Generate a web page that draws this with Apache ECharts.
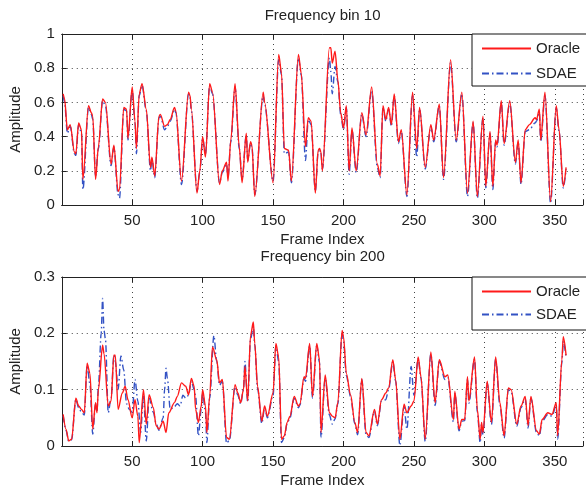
<!DOCTYPE html>
<html><head><meta charset="utf-8">
<script src="https://cdn.jsdelivr.net/npm/echarts@6/dist/echarts.min.js"></script>
<style>html,body{margin:0;padding:0;background:#fff;overflow:hidden}#c{width:586px;height:489px}</style>
</head><body><div id="c"></div>
<script>
// ---------- data ----------
const titles = ['Frequency bin 10', 'Frequency bin 200'];
const xName = 'Frame Index';
const yName = 'Amplitude';
const seriesNames = ['Oracle', 'SDAE'];
const xTickValues = [50, 100, 150, 200, 250, 300, 350];
const topYTicks = [0, 0.2, 0.4, 0.6, 0.8, 1];
const botYTicks = [0, 0.1, 0.2, 0.3];

// [frame, amplitude] — Frequency bin 10
const topOracle = [[1,0.65],[2,0.62],[4,0.44],[6,0.47],[9,0.31],[10,0.30],[12,0.48],[14,0.44],[15,0.15],[19,0.58],[21,0.54],[22,0.52],[24,0.15],[26,0.34],[29,0.62],[31,0.60],[35,0.24],[37,0.35],[40,0.08],[41,0.09],[44,0.57],[46,0.56],[47,0.39],[50,0.69],[52,0.49],[53,0.33],[55,0.65],[57,0.71],[60,0.56],[63,0.22],[64,0.28],[66,0.17],[69,0.52],[70,0.53],[73,0.46],[75,0.47],[77,0.50],[80,0.57],[81,0.55],[85,0.14],[90,0.66],[91,0.64],[92,0.56],[96,0.07],[98,0.20],[100,0.40],[102,0.28],[105,0.71],[107,0.66],[112,0.12],[114,0.20],[117,0.25],[118,0.14],[120,0.38],[123,0.71],[126,0.34],[128,0.13],[131,0.42],[132,0.25],[134,0.37],[135,0.35],[137,0.05],[143,0.66],[144,0.60],[150,0.13],[154,0.88],[156,0.77],[158,0.33],[161,0.32],[163,0.14],[168,0.88],[170,0.77],[173,0.34],[175,0.51],[177,0.49],[180,0.07],[182,0.32],[183,0.33],[184,0.31],[185,0.20],[190,0.92],[191,0.92],[192,0.83],[194,0.90],[196,0.73],[198,0.54],[200,0.45],[202,0.58],[204,0.20],[206,0.45],[209,0.20],[213,0.54],[216,0.41],[220,0.69],[224,0.24],[226,0.17],[228,0.58],[230,0.50],[232,0.57],[234,0.47],[236,0.65],[239,0.37],[241,0.44],[245,0.06],[249,0.66],[252,0.33],[254,0.57],[258,0.22],[262,0.47],[264,0.38],[268,0.59],[271,0.16],[276,0.85],[280,0.38],[284,0.66],[288,0.07],[292,0.49],[295,0.05],[299,0.52],[301,0.11],[304,0.43],[306,0.11],[308,0.38],[309,0.35],[312,0.61],[314,0.36],[318,0.61],[322,0.25],[324,0.38],[326,0.13],[329,0.44],[332,0.47],[336,0.51],[337,0.50],[339,0.56],[340,0.38],[343,0.66],[347,0.02],[351,0.58],[353,0.44],[356,0.11],[358,0.22]];
const topSDAE = [[1,0.64],[2,0.60],[4,0.42],[6,0.46],[9,0.30],[10,0.29],[12,0.47],[14,0.42],[15,0.09],[19,0.57],[21,0.53],[22,0.50],[24,0.17],[26,0.33],[29,0.61],[31,0.58],[35,0.23],[37,0.34],[40,0.06],[41,0.04],[44,0.56],[46,0.55],[47,0.38],[50,0.67],[52,0.48],[53,0.30],[55,0.64],[57,0.70],[60,0.55],[63,0.20],[64,0.27],[66,0.16],[69,0.51],[70,0.52],[73,0.44],[75,0.46],[77,0.49],[80,0.56],[81,0.54],[85,0.12],[90,0.65],[91,0.63],[92,0.55],[96,0.08],[98,0.19],[100,0.39],[102,0.30],[105,0.70],[107,0.65],[112,0.13],[114,0.19],[117,0.24],[118,0.16],[120,0.37],[123,0.69],[126,0.33],[128,0.15],[131,0.41],[132,0.26],[134,0.36],[135,0.34],[137,0.06],[143,0.64],[144,0.59],[150,0.14],[154,0.85],[156,0.76],[158,0.30],[161,0.31],[163,0.13],[168,0.86],[170,0.76],[173,0.26],[175,0.50],[177,0.47],[180,0.08],[182,0.31],[183,0.32],[184,0.30],[185,0.21],[190,0.86],[191,0.78],[192,0.65],[194,0.81],[196,0.72],[198,0.53],[200,0.44],[202,0.57],[204,0.18],[206,0.44],[209,0.19],[213,0.53],[216,0.40],[220,0.67],[224,0.22],[226,0.16],[228,0.57],[230,0.49],[232,0.56],[234,0.46],[236,0.64],[239,0.36],[241,0.43],[245,0.05],[249,0.64],[252,0.28],[254,0.56],[258,0.21],[262,0.46],[264,0.37],[268,0.58],[271,0.15],[276,0.83],[280,0.37],[284,0.65],[288,0.05],[292,0.48],[295,0.04],[299,0.51],[301,0.10],[304,0.42],[306,0.09],[308,0.37],[309,0.34],[312,0.60],[314,0.35],[318,0.60],[322,0.24],[324,0.37],[326,0.12],[329,0.43],[332,0.44],[336,0.48],[337,0.49],[339,0.54],[340,0.37],[343,0.64],[347,0.01],[351,0.57],[353,0.43],[356,0.10],[358,0.21]];

// [frame, amplitude] — Frequency bin 200
const botOracle = [[1,0.056],[3,0.030],[5,0.009],[7,0.012],[10,0.085],[12,0.071],[14,0.065],[16,0.059],[18,0.147],[20,0.129],[22,0.030],[24,0.077],[25,0.059],[26,0.100],[29,0.179],[30,0.164],[33,0.071],[35,0.080],[37,0.161],[38,0.161],[40,0.065],[43,0.094],[45,0.106],[47,0.082],[50,0.050],[52,0.082],[54,0.053],[55,0.006],[58,0.100],[60,0.039],[62,0.091],[65,0.068],[67,0.036],[69,0.030],[72,0.044],[74,0.024],[76,0.059],[80,0.077],[82,0.088],[85,0.112],[88,0.106],[90,0.091],[92,0.120],[94,0.106],[95,0.065],[97,0.042],[99,0.071],[100,0.100],[102,0.071],[103,0.024],[105,0.088],[107,0.176],[110,0.153],[112,0.112],[114,0.118],[117,0.015],[119,0.012],[123,0.109],[125,0.094],[127,0.077],[129,0.100],[130,0.141],[132,0.080],[134,0.196],[136,0.220],[137,0.182],[139,0.106],[142,0.044],[144,0.071],[146,0.053],[150,0.094],[152,0.182],[154,0.158],[156,0.012],[158,0.018],[160,0.042],[162,0.053],[165,0.088],[168,0.071],[169,0.074],[172,0.123],[173,0.120],[176,0.182],[178,0.088],[181,0.182],[183,0.153],[184,0.024],[187,0.126],[190,0.059],[192,0.053],[194,0.050],[196,0.077],[199,0.205],[200,0.194],[202,0.129],[205,0.091],[208,0.042],[210,0.024],[213,0.120],[216,0.024],[218,0.018],[222,0.065],[224,0.039],[227,0.082],[230,0.094],[232,0.103],[235,0.153],[237,0.118],[240,0.012],[243,0.074],[245,0.059],[248,0.071],[250,0.080],[253,0.158],[255,0.123],[258,0.012],[262,0.167],[265,0.077],[268,0.153],[272,0.123],[274,0.126],[278,0.047],[279,0.097],[282,0.030],[284,0.047],[286,0.047],[288,0.123],[289,0.080],[293,0.158],[295,0.065],[297,0.012],[298,0.042],[299,0.024],[302,0.115],[305,0.042],[308,0.158],[311,0.077],[314,0.018],[317,0.103],[319,0.100],[323,0.039],[326,0.071],[329,0.088],[331,0.036],[333,0.088],[337,0.027],[339,0.021],[341,0.047],[345,0.059],[348,0.056],[351,0.077],[352,0.018],[355,0.153],[356,0.194],[358,0.161]];
const botSDAE = [[1,0.054],[3,0.028],[5,0.008],[7,0.011],[10,0.083],[12,0.068],[14,0.060],[16,0.055],[18,0.143],[20,0.110],[22,0.021],[24,0.075],[25,0.062],[26,0.105],[28,0.200],[29,0.262],[30,0.205],[31,0.190],[33,0.059],[35,0.085],[37,0.161],[38,0.150],[40,0.100],[42,0.160],[44,0.135],[46,0.075],[48,0.065],[50,0.060],[52,0.118],[54,0.080],[56,0.024],[58,0.090],[60,0.009],[62,0.085],[65,0.060],[67,0.040],[69,0.028],[72,0.050],[73,0.100],[74,0.138],[75,0.120],[77,0.065],[80,0.070],[82,0.075],[84,0.071],[86,0.090],[88,0.085],[90,0.090],[92,0.115],[94,0.100],[95,0.088],[97,0.018],[99,0.065],[100,0.095],[102,0.060],[103,0.006],[105,0.085],[108,0.196],[110,0.150],[112,0.108],[114,0.115],[117,0.005],[119,0.010],[123,0.105],[125,0.090],[127,0.075],[129,0.100],[130,0.150],[132,0.078],[134,0.190],[136,0.212],[137,0.180],[139,0.102],[142,0.040],[144,0.068],[146,0.050],[150,0.090],[152,0.178],[154,0.150],[156,0.006],[158,0.015],[160,0.040],[162,0.050],[165,0.085],[168,0.068],[169,0.072],[172,0.120],[173,0.115],[176,0.178],[178,0.085],[181,0.178],[183,0.148],[184,0.015],[187,0.120],[190,0.055],[192,0.039],[194,0.048],[196,0.075],[199,0.200],[200,0.188],[202,0.125],[205,0.088],[208,0.040],[210,0.020],[213,0.118],[216,0.020],[218,0.015],[222,0.062],[224,0.036],[227,0.080],[230,0.082],[232,0.100],[235,0.150],[237,0.115],[240,0.001],[243,0.070],[245,0.030],[248,0.141],[250,0.090],[253,0.155],[255,0.120],[258,0.008],[262,0.163],[265,0.072],[268,0.150],[272,0.118],[274,0.122],[278,0.043],[279,0.093],[282,0.027],[284,0.044],[286,0.045],[288,0.118],[289,0.076],[293,0.154],[295,0.060],[297,0.006],[298,0.038],[299,0.020],[302,0.112],[305,0.038],[308,0.154],[311,0.073],[314,0.014],[317,0.100],[319,0.096],[323,0.035],[326,0.068],[329,0.084],[331,0.032],[333,0.085],[337,0.024],[339,0.018],[341,0.044],[345,0.056],[348,0.053],[351,0.073],[352,0.012],[355,0.148],[356,0.186],[358,0.157]];

// ---------- layout / style ----------
const FONT = '"Liberation Sans", Arial, Helvetica, sans-serif';
const FS = 15;
const TXT = '#222';
const RED = '#ff1a1a';
const BLUE = '#3352c4';
const X_MIN = 0, X_MAX = 370;
const gridLeft = 57.3, gridWidth = 530.6;
const grids = [
  { left: gridLeft, top: 34, width: gridWidth, height: 171 },
  { left: gridLeft, top: 277, width: gridWidth, height: 170 }
];

function fmt(v) { return String(Math.round(v * 1000) / 1000); }

function xAxes(gi) {
  return [
    {
      type: 'value', gridIndex: gi, position: 'bottom', min: X_MIN, max: X_MAX, interval: 50,
      axisLine: { show: true, onZero: false, lineStyle: { color: TXT, width: 1 } },
      axisTick: { show: true, inside: true, length: 5, lineStyle: { color: TXT } },
      axisLabel: { color: TXT, fontSize: FS, fontFamily: FONT, margin: 8,
        formatter: v => (xTickValues.indexOf(v) >= 0 ? String(v) : '') },
      splitLine: { show: true, lineStyle: { color: '#444', width: 1, type: [1, 4] } },
      name: xName, nameLocation: 'middle', nameGap: 27,
      nameTextStyle: { color: TXT, fontSize: FS, fontFamily: FONT }
    },
    {
      type: 'value', gridIndex: gi, position: 'top', min: X_MIN, max: X_MAX, interval: 50,
      axisLine: { show: true, onZero: false, lineStyle: { color: TXT, width: 1 } },
      axisTick: { show: true, inside: true, length: 5, lineStyle: { color: TXT } },
      axisLabel: { show: false }, splitLine: { show: false }
    }
  ];
}

function yAxis(gi, ticks) {
  const step = ticks[1] - ticks[0];
  return {
    type: 'value', gridIndex: gi, min: ticks[0], max: ticks[ticks.length - 1], interval: step,
    axisLine: { show: true, onZero: false, lineStyle: { color: TXT, width: 1 } },
    axisTick: { show: true, inside: true, length: 5, lineStyle: { color: TXT } },
    axisLabel: { color: TXT, fontSize: FS, fontFamily: FONT, margin: 7, formatter: fmt },
    splitLine: { show: true, lineStyle: { color: '#444', width: 1, type: [1, 4] } },
    name: yName, nameLocation: 'middle', nameGap: 30, nameRotate: 90,
    nameTextStyle: { color: TXT, fontSize: FS, fontFamily: FONT }
  };
}

function lineSeries(name, data, xi, yi, color, dash, z) {
  return {
    name, type: 'line', data, xAxisIndex: xi, yAxisIndex: yi,
    symbol: 'none', symbolSize: 0, showSymbol: false, smooth: 0.3, smoothMonotone: 'x',
    lineStyle: { color, width: 1.4, type: dash },
    itemStyle: { color }, z, animation: false, clip: true
  };
}

const DASHDOT = [7, 3, 1.5, 3];

function legend(top, gap, padTop, padBottom) {
  return {
    orient: 'vertical', left: 472, top, data: seriesNames,
    itemWidth: 49, itemHeight: 14, itemGap: gap,
    padding: [padTop, 18, padBottom, 9],
    borderColor: '#111', borderWidth: 1, backgroundColor: '#fff',
    itemStyle: { opacity: 0 },
    textStyle: { color: TXT, fontSize: FS, fontFamily: FONT },
    selectedMode: false
  };
}

const chart = echarts.init(document.getElementById('c'), null, { renderer: 'canvas' });
chart.setOption({
  animation: false,
  backgroundColor: '#fff',
  grid: grids,
  xAxis: [...xAxes(0), ...xAxes(1)],
  yAxis: [yAxis(0, topYTicks), yAxis(1, botYTicks)],
  legend: [legend(34, 10, 7, 5), legend(277, 8, 7, 8)],
  graphic: [
    { type: 'text', x: gridLeft + gridWidth / 2, y: 16, z: 100,
      style: { text: titles[0], fill: TXT, font: FS + 'px ' + FONT, textAlign: 'center', textVerticalAlign: 'middle' } },
    { type: 'text', x: gridLeft + gridWidth / 2, y: 257, z: 100,
      style: { text: titles[1], fill: TXT, font: FS + 'px ' + FONT, textAlign: 'center', textVerticalAlign: 'middle' } }
  ],
  series: [
    lineSeries(seriesNames[1], topSDAE, 0, 0, BLUE, DASHDOT, 2),
    lineSeries(seriesNames[0], topOracle, 0, 0, RED, 'solid', 3),
    lineSeries(seriesNames[1], botSDAE, 2, 1, BLUE, DASHDOT, 2),
    lineSeries(seriesNames[0], botOracle, 2, 1, RED, 'solid', 3)
  ]
});
</script>
</body></html>
